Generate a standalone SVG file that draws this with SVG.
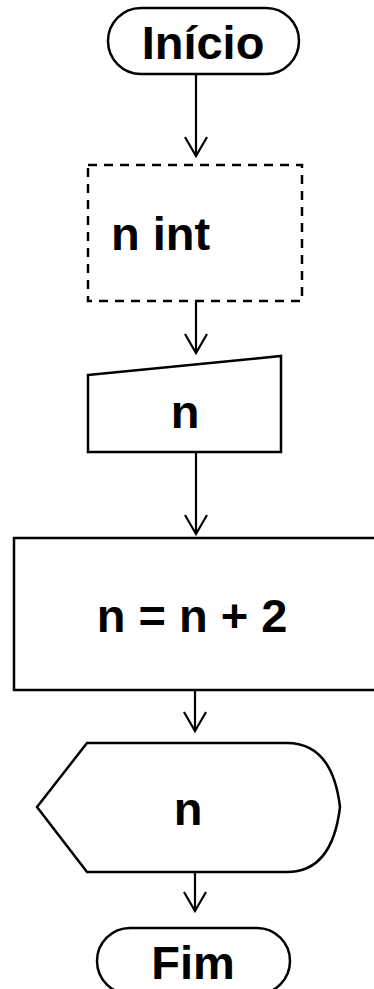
<svg xmlns="http://www.w3.org/2000/svg" width="374" height="989" viewBox="0 0 374 989">
<style>
.s{fill:#fff;stroke:#000;stroke-width:2.5}
.d{stroke-dasharray:9 7}
.t{font-family:"Liberation Sans",Arial,sans-serif;font-weight:bold;font-size:47px;fill:#000}
.c{fill:none;stroke:#000;stroke-width:2.2}
</style>
<defs>
<marker id="ah" markerWidth="22" markerHeight="26" refX="20" refY="12" orient="auto" markerUnits="userSpaceOnUse" viewBox="0 0 22 24">
<path d="M1,1 L20,12 L1,23" fill="none" stroke="#000" stroke-width="2.2"/>
</marker>
</defs>
<rect width="374" height="989" fill="#fff"/>
<g id="connectors">
<line class="c" x1="196" y1="74" x2="196" y2="156" marker-end="url(#ah)"/>
<line class="c" x1="196" y1="301" x2="196" y2="353" marker-end="url(#ah)"/>
<line class="c" x1="196" y1="452" x2="196" y2="534" marker-end="url(#ah)"/>
<line class="c" x1="195" y1="690" x2="195" y2="731" marker-end="url(#ah)"/>
<line class="c" x1="195" y1="872" x2="195" y2="911" marker-end="url(#ah)"/>
</g>
<g id="inicio">
<rect class="s" x="108" y="8" width="191" height="66" rx="33"/>
<text class="t" x="203" y="59" text-anchor="middle">Início</text>
</g>
<g id="declaracao">
<rect class="s d" x="88" y="165" width="214" height="136"/>
<text class="t" x="111" y="250">n int</text>
</g>
<g id="entrada">
<path class="s" d="M88,375 L281,356 L281,452 L88,452 Z"/>
<text class="t" x="185" y="428" text-anchor="middle">n</text>
</g>
<g id="processo">
<rect class="s" x="14" y="538" width="380" height="152"/>
<text class="t" x="192" y="632" text-anchor="middle">n = n + 2</text>
</g>
<g id="saida">
<path class="s" d="M37,807 L87,743 L287,743 C318,743 335,765 340,807 C335,849 318,872 287,872 L87,872 Z"/>
<text class="t" x="188" y="825" text-anchor="middle">n</text>
</g>
<g id="fim">
<rect class="s" x="97" y="928" width="193" height="66" rx="33"/>
<text class="t" x="193" y="979" text-anchor="middle">Fim</text>
</g>
</svg>
